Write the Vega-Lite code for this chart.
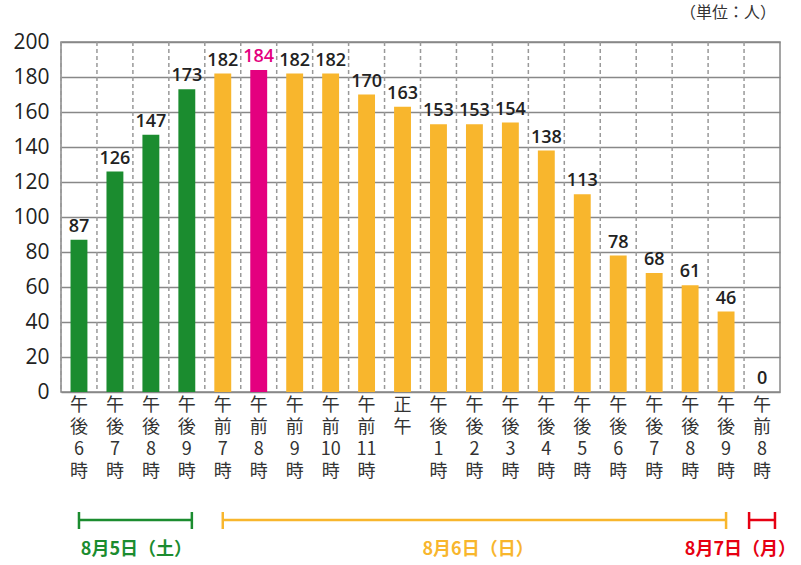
{
  "$schema": "https://vega.github.io/schema/vega-lite/v6.json",
  "padding": {"left": 12, "top": 4, "right": 21, "bottom": 0},
  "background": "white",
  "config": {"font": "Noto Sans CJK JP"},
  "datasets": {
    "bars": [
      {"slot": "5日|午|後|6|時", "count": 87, "grp": "d5"},
      {"slot": "5日|午|後|7|時", "count": 126, "grp": "d5"},
      {"slot": "5日|午|後|8|時", "count": 147, "grp": "d5"},
      {"slot": "5日|午|後|9|時", "count": 173, "grp": "d5"},
      {"slot": "6日|午|前|7|時", "count": 182, "grp": "d6"},
      {"slot": "6日|午|前|8|時", "count": 184, "grp": "peak"},
      {"slot": "6日|午|前|9|時", "count": 182, "grp": "d6"},
      {"slot": "6日|午|前|10|時", "count": 182, "grp": "d6"},
      {"slot": "6日|午|前|11|時", "count": 170, "grp": "d6"},
      {"slot": "6日|正|午", "count": 163, "grp": "d6"},
      {"slot": "6日|午|後|1|時", "count": 153, "grp": "d6"},
      {"slot": "6日|午|後|2|時", "count": 153, "grp": "d6"},
      {"slot": "6日|午|後|3|時", "count": 154, "grp": "d6"},
      {"slot": "6日|午|後|4|時", "count": 138, "grp": "d6"},
      {"slot": "6日|午|後|5|時", "count": 113, "grp": "d6"},
      {"slot": "6日|午|後|6|時", "count": 78, "grp": "d6"},
      {"slot": "6日|午|後|7|時", "count": 68, "grp": "d6"},
      {"slot": "6日|午|後|8|時", "count": 61, "grp": "d6"},
      {"slot": "6日|午|後|9|時", "count": 46, "grp": "d6"},
      {"slot": "7日|午|前|8|時", "count": 0, "grp": "d7"}
    ],
    "brackets": [
      {"day": "8月5日（土）", "key": "d5", "from": "5日|午|後|6|時", "to": "5日|午|後|9|時", "at": "5日|午|後|7|時"},
      {"day": "8月6日（日）", "key": "d6", "from": "6日|午|前|7|時", "to": "6日|午|後|9|時", "at": "6日|午|後|2|時"},
      {"day": "8月7日（月）", "key": "d7", "from": "7日|午|前|8|時", "to": "7日|午|前|8|時", "at": "6日|午|後|9|時"}
    ]
  },
  "spacing": 19,
  "vconcat": [
    {
      "width": 719,
      "height": 350,
      "view": {"stroke": "#888", "strokeWidth": 1.5},
      "title": {"text": "（単位：人）", "anchor": "end", "fontSize": 16, "fontWeight": "normal", "color": "#333", "offset": 10, "dx": -4},
      "data": {"name": "bars"},
      "encoding": {
        "x": {
          "field": "slot", "type": "nominal",
          "scale": {"domain": ["5日|午|後|6|時","5日|午|後|7|時","5日|午|後|8|時","5日|午|後|9|時","6日|午|前|7|時","6日|午|前|8|時","6日|午|前|9|時","6日|午|前|10|時","6日|午|前|11|時","6日|正|午","6日|午|後|1|時","6日|午|後|2|時","6日|午|後|3|時","6日|午|後|4|時","6日|午|後|5|時","6日|午|後|6|時","6日|午|後|7|時","6日|午|後|8|時","6日|午|後|9|時","7日|午|前|8|時"], "paddingInner": 0, "paddingOuter": 0},
          "axis": {"title": null, "labelAngle": 0, "labelExpr": "slice(split(datum.value, '|'), 1)", "labelFontSize": 18, "labelLineHeight": 22, "labelColor": "#333", "labelPadding": 4, "labelBaseline": "top", "ticks": false, "domain": false, "grid": false}
        },
        "y": {
          "field": "count", "type": "quantitative",
          "scale": {"domain": [0, 200]},
          "axis": {"title": null, "values": [0,20,40,60,80,100,120,140,160,180,200], "grid": true, "gridColor": "#888", "gridWidth": 1.3, "ticks": false, "domain": false, "labelFontSize": 21, "labelColor": "#222", "labelPadding": 12, "labelFont": "Open Sans"}
        }
      },
      "layer": [
        {
          "mark": {"type": "rule", "stroke": "#999", "strokeDash": [4, 3], "strokeWidth": 1.5},
          "encoding": {"x": {"field": "slot", "type": "nominal", "bandPosition": 0}, "y": null}
        },
        {
          "mark": {"type": "bar", "width": {"band": 0.47}},
          "encoding": {
            "color": {"field": "grp", "type": "nominal", "scale": {"domain": ["d5", "d6", "peak", "d7"], "range": ["#1b8c2f", "#f8b62d", "#e4007f", "#e60012"]}, "legend": null}
          }
        },
        {
          "mark": {"type": "text", "baseline": "bottom", "dy": -4, "fontSize": 18, "fontWeight": 600, "font": "Open Sans"},
          "encoding": {
            "text": {"field": "count", "type": "quantitative"},
            "color": {"condition": {"test": "datum.grp === 'peak'", "value": "#e4007f"}, "value": "#222"}
          }
        }
      ]
    },
    {
      "width": 719,
      "height": 60,
      "view": {"stroke": null},
      "data": {"name": "brackets"},
      "encoding": {
        "x": {
          "field": "from", "type": "nominal",
          "scale": {"domain": ["5日|午|後|6|時","5日|午|後|7|時","5日|午|後|8|時","5日|午|後|9|時","6日|午|前|7|時","6日|午|前|8|時","6日|午|前|9|時","6日|午|前|10|時","6日|午|前|11|時","6日|正|午","6日|午|後|1|時","6日|午|後|2|時","6日|午|後|3|時","6日|午|後|4|時","6日|午|後|5|時","6日|午|後|6|時","6日|午|後|7|時","6日|午|後|8|時","6日|午|後|9|時","7日|午|前|8|時"], "paddingInner": 0, "paddingOuter": 0},
          "axis": null
        },
        "color": {"field": "key", "type": "nominal", "scale": {"domain": ["d5", "d6", "d7"], "range": ["#1b8c2f", "#f8b62d", "#e60012"]}, "legend": null}
      },
      "layer": [
        {
          "transform": [{"filter": "datum.key === 'd5'"}],
          "mark": {"type": "rule", "strokeWidth": 2.5},
          "encoding": {"x2": {"field": "to", "bandPosition": 0.64}, "y": {"datum": 40, "type": "quantitative", "scale": {"domain": [0, 60]}, "axis": null}}
        },
        {
          "transform": [{"filter": "datum.key === 'd6'"}],
          "mark": {"type": "rule", "strokeWidth": 2.5},
          "encoding": {"x2": {"field": "to"}, "y": {"datum": 40}}
        },
        {
          "transform": [{"filter": "datum.key !== 'd7'"}],
          "mark": {"type": "rule", "strokeWidth": 2.5},
          "encoding": {"y": {"datum": 31}, "y2": {"datum": 48}}
        },
        {
          "transform": [{"filter": "datum.key === 'd5'"}],
          "mark": {"type": "rule", "strokeWidth": 2.5},
          "encoding": {"x": {"field": "to", "type": "nominal", "bandPosition": 0.64}, "y": {"datum": 31}, "y2": {"datum": 48}}
        },
        {
          "transform": [{"filter": "datum.key === 'd6'"}],
          "mark": {"type": "rule", "strokeWidth": 2.5},
          "encoding": {"x": {"field": "to", "type": "nominal"}, "y": {"datum": 31}, "y2": {"datum": 48}}
        },
        {
          "transform": [{"filter": "datum.key === 'd7'"}],
          "mark": {"type": "rule", "strokeWidth": 2.5},
          "encoding": {"x": {"field": "from", "type": "nominal", "bandPosition": 0.14}, "x2": {"field": "to", "bandPosition": 0.86}, "y": {"datum": 40}}
        },
        {
          "transform": [{"filter": "datum.key === 'd7'"}],
          "mark": {"type": "rule", "strokeWidth": 2.5},
          "encoding": {"x": {"field": "from", "type": "nominal", "bandPosition": 0.14}, "y": {"datum": 31}, "y2": {"datum": 48}}
        },
        {
          "transform": [{"filter": "datum.key === 'd7'"}],
          "mark": {"type": "rule", "strokeWidth": 2.5},
          "encoding": {"x": {"field": "to", "type": "nominal", "bandPosition": 0.86}, "y": {"datum": 31}, "y2": {"datum": 48}}
        },
        {
          "transform": [{"filter": "datum.key === 'd5'"}],
          "mark": {"type": "text", "fontSize": 18, "fontWeight": "bold", "baseline": "middle"},
          "encoding": {"x": {"field": "at", "type": "nominal", "bandPosition": 1.1}, "y": {"datum": 10}, "text": {"field": "day"}}
        },
        {
          "transform": [{"filter": "datum.key === 'd6'"}],
          "mark": {"type": "text", "fontSize": 18, "fontWeight": "bold", "baseline": "middle"},
          "encoding": {"x": {"field": "at", "type": "nominal", "bandPosition": 0.6}, "y": {"datum": 10}, "text": {"field": "day"}}
        },
        {
          "transform": [{"filter": "datum.key === 'd7'"}],
          "mark": {"type": "text", "fontSize": 18, "fontWeight": "bold", "baseline": "middle"},
          "encoding": {"x": {"field": "at", "type": "nominal", "bandPosition": 0.9}, "y": {"datum": 10}, "text": {"field": "day"}}
        }
      ]
    }
  ]
}
